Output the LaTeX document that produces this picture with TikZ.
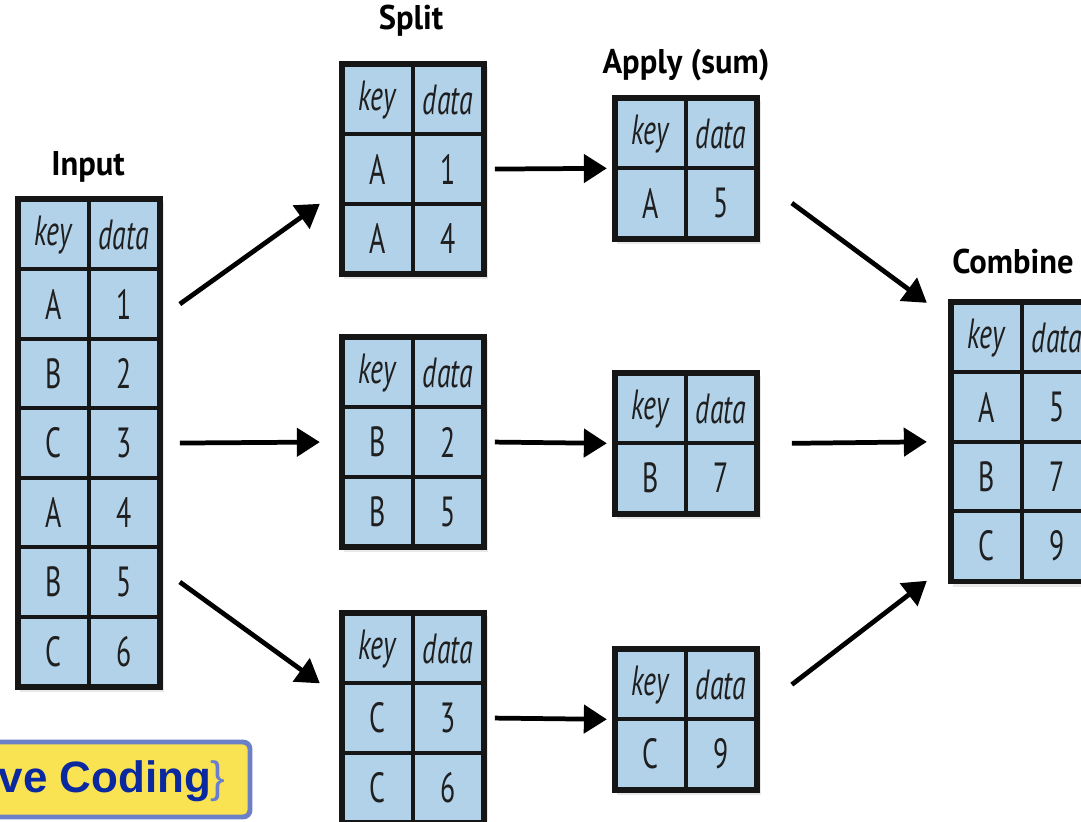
\documentclass[tikz,border=0pt]{standalone}
\usepackage{fontspec}
\usetikzlibrary{matrix,shadows,arrows.meta}

\newfontfamily\cellfont[FakeStretch=0.66]{PT Sans}
\newfontfamily\headfont[FakeStretch=0.95]{PT Sans}
\newfontfamily\codefont{Liberation Sans}

\definecolor{tblfill}{RGB}{178,210,234}
\definecolor{tblline}{RGB}{22,22,22}
\definecolor{codefill}{RGB}{250,227,82}
\definecolor{codeline}{RGB}{108,128,200}
\definecolor{codeblue}{RGB}{10,40,160}
\definecolor{codebrace}{RGB}{104,126,208}

\tikzset{
  cell/.style={draw=tblline, line width=2.1pt, fill=tblfill, anchor=center,
    minimum width=1.4cm, minimum height=1.39cm, inner sep=0pt, outer sep=0pt,
    text=black!88, font=\cellfont\fontsize{24}{26}\selectfont},
  tbl/.style={matrix of nodes, draw=tblline, line width=2.1pt, fill=tblfill,
    inner sep=0pt, outer sep=0pt, row sep=-2.1pt, column sep=-2.1pt,
    anchor=north west, nodes={cell},
    drop shadow={shadow xshift=0.06cm, shadow yshift=-0.08cm, opacity=0.18}},
  head/.style={font=\headfont\bfseries\fontsize{19.5}{22}\selectfont,
    anchor=base, inner sep=0pt},
  arr/.style={line width=2.7pt, -{Triangle[length=0.46cm, width=0.56cm]}},
  codeframe/.style={draw=codeline, line width=2.8pt, fill=codefill, rounded corners=4pt},
  codetext/.style={font=\codefont\bfseries\fontsize{25}{28}\selectfont,
    text=codeblue, inner sep=0pt, anchor=base east},
}

\begin{document}
\begin{tikzpicture}[x=0.02cm, y=-0.02cm]
    \useasboundingbox (0,0) rectangle (1081,821);
    \clip (0,0) rectangle (1081,821);

    % input
    \node[head] (ttl-in) at (88,175) {Input};
    \matrix[tbl] (in) at (17,198) {
        \textit{key} & \textit{data} \\
        A & 1 \\
        B & 2 \\
        C & 3 \\
        A & 4 \\
        B & 5 \\
        C & 6 \\
    };

    % split
    \node[head] (ttl-split) at (411,30) {Split};
    \matrix[tbl] (sA) at (341,63) {
        \textit{key} & \textit{data} \\
        A & 1 \\
        A & 4 \\
    };
    \matrix[tbl] (sB) at (341,336) {
        \textit{key} & \textit{data} \\
        B & 2 \\
        B & 5 \\
    };
    \matrix[tbl] (sC) at (341,612) {
        \textit{key} & \textit{data} \\
        C & 3 \\
        C & 6 \\
    };

    % apply
    \node[head] (ttl-apply) at (686,73) {Apply (sum)};
    \matrix[tbl] (aA) at (614,97) {
        \textit{key} & \textit{data} \\
        A & 5 \\
    };
    \matrix[tbl] (aB) at (614,372) {
        \textit{key} & \textit{data} \\
        B & 7 \\
    };
    \matrix[tbl] (aC) at (614,648) {
        \textit{key} & \textit{data} \\
        C & 9 \\
    };

    % combine
    \node[head, anchor=base west] (ttl-comb) at (952,273) {Combine};
    \matrix[tbl] (cm) at (950,301) {
        \textit{key} & \textit{data} \\
        A & 5 \\
        B & 7 \\
        C & 9 \\
    };

    \draw[arr] ([xshift=0.42cm]in-2-2.east) -- ([xshift=-0.46cm]sA-2-1.south west);
    \draw[arr] ([xshift=0.42cm]in-4-2.east) -- ([xshift=-0.46cm]sB-2-1.west);
    \draw[arr] ([xshift=0.42cm]in-6-2.east) -- ([xshift=-0.46cm]sC-2-1.north west);

    \draw[arr] ([xshift=0.24cm]sA-2-2.east) -- ([xshift=-0.18cm]aA-1-1.south west);
    \draw[arr] ([xshift=0.24cm]sB-2-2.east) -- ([xshift=-0.18cm]aB-1-1.south west);
    \draw[arr] ([xshift=0.24cm]sC-2-2.east) -- ([xshift=-0.18cm]aC-1-1.south west);

    \draw[arr] ([xshift=0.72cm]aA-2-2.east) -- ([xshift=-0.5cm]cm-1-1.north west);
    \draw[arr] ([xshift=0.72cm]aB-1-2.south east) -- ([xshift=-0.5cm]cm-3-1.north west);
    \draw[arr] ([xshift=0.72cm]aC-1-2.east) -- ([xshift=-0.5cm]cm-4-1.south west);

    % bottom-left box
    \draw[codeframe] (-30,742) rectangle (250,817);
    \node[codetext] (code) at (226,792) {ve Coding{\mdseries\color{codebrace}\}}};
\end{tikzpicture}
\end{document}
